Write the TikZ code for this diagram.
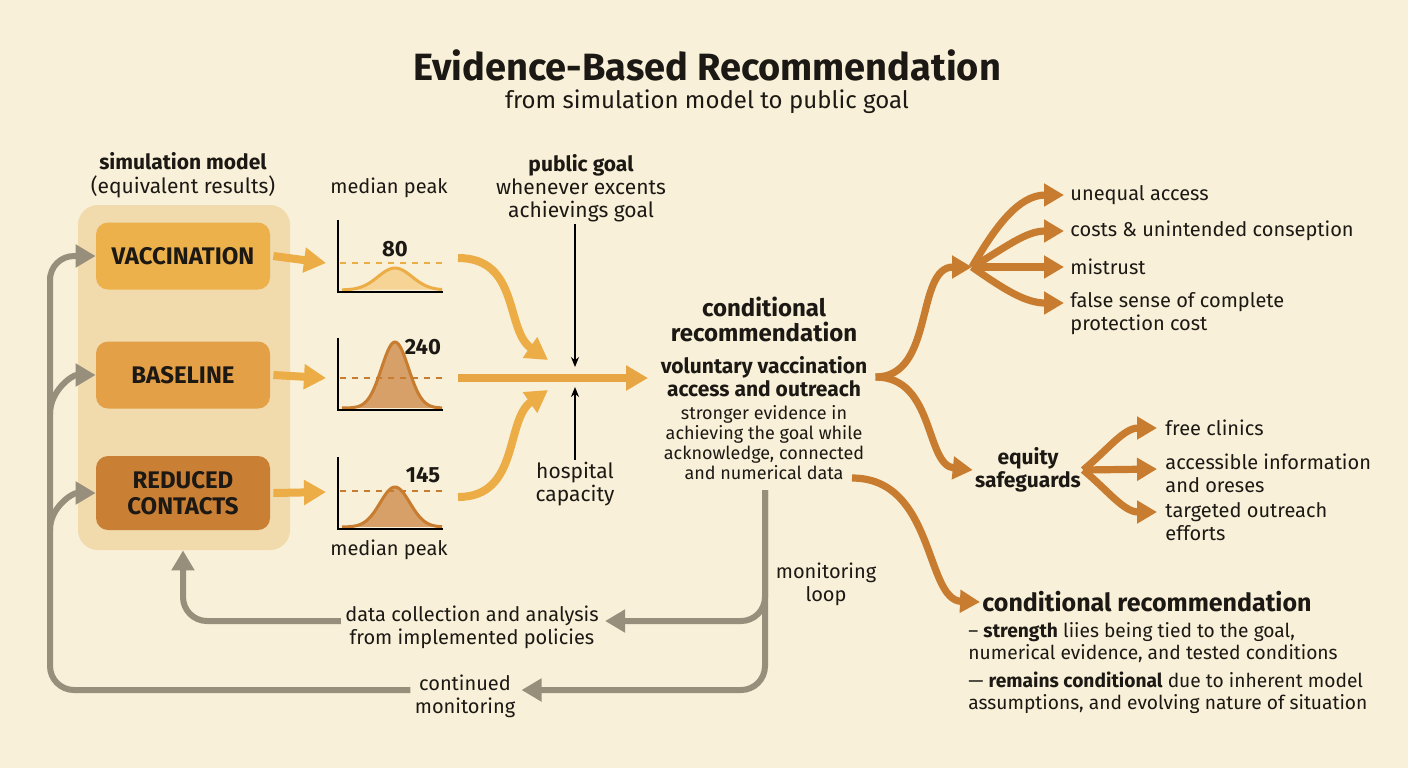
\documentclass[tikz,border=0pt]{standalone}
\usepackage{fontspec}
\setmainfont{Fira Sans}
\usepackage{tikz}
\usetikzlibrary{positioning,arrows.meta,calc}

\definecolor{bgcream}{RGB}{248,240,216}
\definecolor{inkdark}{RGB}{28,24,20}
\definecolor{panelfill}{RGB}{241,218,172}
\definecolor{vacfill}{RGB}{237,177,76}
\definecolor{basefill}{RGB}{228,160,70}
\definecolor{redfill}{RGB}{202,128,52}
\definecolor{flowlight}{RGB}{236,172,70}
\definecolor{flowdark}{RGB}{200,124,48}
\definecolor{curvelight}{RGB}{245,212,150}
\definecolor{curvemid}{RGB}{214,160,104}
\definecolor{loopgray}{RGB}{152,142,124}

\begin{document}
\begin{tikzpicture}[x=0.5pt, y=-0.5pt, text=inkdark,
    font=\fontsize{10}{11.5}\selectfont,
    scen/.style={rounded corners=6pt, minimum width=87pt, minimum height=33.5pt,
      align=center, font=\fontsize{12}{13}\selectfont\bfseries},
    txt/.style={align=center, inner sep=1pt},
    item/.style={align=left, inner sep=1pt, anchor=west},
    flow/.style={line width=4pt, flowlight, -{Triangle[length=11pt,width=12pt]}},
    branch/.style={line width=3.6pt, flowdark, -{Triangle[length=10pt,width=11pt]}},
    feed/.style={line width=3pt, loopgray, rounded corners=12pt, -{Triangle[length=10pt,width=11pt]}},
    pointer/.style={line width=0.7pt, black, -{Stealth[length=5pt,width=4pt]}}]

  % Background
  \fill[bgcream] (0,0) rectangle (1408,768);
  \useasboundingbox (0,0) rectangle (1408,768);

  % Title
  \node[font=\fontsize{19}{22}\selectfont\bfseries] (title) at (707,65) {Evidence-Based Recommendation};
  \node[font=\fontsize{12}{14}\selectfont] (subtitle) at (707,102) {from simulation model to public goal};

  % Simulation model
  \node[txt, font=\fontsize{10.5}{12}\selectfont] (simhead) at (183,175) {\textbf{simulation model}\\(equivalent results)};
  \node[fill=panelfill, rounded corners=10pt, minimum width=106pt, minimum height=172.5pt] (panel) at (184,377.5) {};
  \node[scen, fill=vacfill] (vac) at (183,256) {VACCINATION};
  \node[scen, fill=basefill] (base) at (183,375) {BASELINE};
  \node[scen, fill=redfill, minimum height=37pt] (red) at (183,493) {REDUCED\\CONTACTS};

  % Peak charts
  \node[txt] (peaktop) at (389,188) {median peak};
  \node[txt] (peakbot) at (389,550) {median peak};
  \foreach \yb/\h/\s/\dy/\fc/\lc/\num/\lx/\ly [count=\i] in
      {290/22/24/263/curvelight/flowlight/80/395/249,
       408/66/19/378/curvemid/flowdark/240/423/347,
       527/40/21/491/curvemid/flowdark/145/423/475}{
    \fill[\fc] plot[domain=342:442, samples=60] (\x,{\yb-\h*exp(0-((\x-395)/\s)^2)}) -- cycle;
    \draw[\lc, line width=1.5pt] plot[domain=342:442, samples=60] (\x,{\yb-\h*exp(0-((\x-395)/\s)^2)});
    \draw[\lc, dashed, line width=0.6pt] (340,\dy) -- (443,\dy);
    \draw[black, line width=1.2pt] (338,\yb-70) -- (338,\yb+2) -- (443,\yb+2);
    \node[font=\fontsize{11}{12}\selectfont\bfseries] (pk\i) at (\lx,\ly) {\num};
  }
  \coordinate (in1) at (326,263);
  \coordinate (in2) at (326,378);
  \coordinate (in3) at (326,492);
  \draw[flow] (vac.east) ++(3,0) -- (in1);
  \draw[flow] (base.east) ++(3,0) -- (in2);
  \draw[flow] (red.east) ++(3,0) -- (in3);

  % Merge into recommendation
  \coordinate (out1) at (458,258);
  \coordinate (out2) at (458,378);
  \coordinate (out3) at (458,497);
  \coordinate (m1) at (548,360);
  \coordinate (m3) at (548,390);
  \coordinate (goal) at (648,378);
  \draw[flow] (out1) .. controls (520,258) and (505,330) .. (m1);
  \draw[flow] (out3) .. controls (520,497) and (505,420) .. (m3);
  \draw[flow, flowlight!85!flowdark] (out2) -- (goal);

  % Public goal and capacity
  \node[txt, font=\fontsize{10.5}{11.5}\selectfont] (pg) at (581,188) {\textbf{public goal}\\whenever excents\\achievings goal};
  \node[txt, font=\fontsize{10.5}{11.5}\selectfont] (hc) at (575,484) {hospital\\capacity};
  \coordinate (hit1) at (575,367);
  \coordinate (hit2) at (575,387);
  \draw[pointer] (pg.south -| hit1) -- (hit1);
  \draw[pointer] (hc.north) -- (hit2);

  % Conditional recommendation
  \node[txt, font=\fontsize{12}{12.5}\selectfont\bfseries] (crhead) at (764,319) {conditional\\recommendation};
  \node[txt, font=\fontsize{10.5}{11.5}\selectfont\bfseries] (crsub) at (764,377) {voluntary vaccination\\access and outreach};
  \node[txt, font=\fontsize{9}{10}\selectfont] (crtext) at (764,443) {stronger evidence in\\achieving the goal while\\acknowledge, connected\\and numerical data};

  % Concerns fan
  \coordinate (fan) at (972,267);
  \node[item] (ua) at (1068,195) {unequal access};
  \node[item] (cu) at (1068,231) {costs \& unintended conseption};
  \node[item] (mt) at (1068,267) {mistrust};
  \node[item, anchor=north west] (fs) at (1068,290) {false sense of complete\\protection cost};
  \draw[branch] (crsub.east) ++(6,0) .. controls (935,377) and (915,267) .. (fan);
  \draw[branch] (fan) to[out=60, in=180] ($(ua.west)+(-4,0)$);
  \draw[branch] (fan) to[out=30, in=180] ($(cu.west)+(-4,0)$);
  \draw[branch] (fan) -- ($(mt.west)+(-4,0)$);
  \draw[branch] (fan) to[out=-35, in=180] ($(fs.north west)+(-4,13)$);

  % Equity safeguards
  \node[txt, font=\fontsize{10.5}{11.5}\selectfont\bfseries] (eq) at (1028,470) {equity\\safeguards};
  \draw[branch] (crsub.east) ++(6,0) .. controls (935,377) and (925,465) .. (eq.west);
  \node[item] (fc) at (1163,428) {free clinics};
  \node[item] (ai) at (1163,473) {accessible information\\and oreses};
  \node[item, anchor=north west] (to) at (1163,500) {targeted outreach\\efforts};
  \draw[branch] (eq.east) to[out=40, in=180] ($(fc.west)+(-6,0)$);
  \draw[branch] (eq.east) -- ($(ai.west)+(-6,-4)$);
  \draw[branch] (eq.east) to[out=-40, in=180] ($(to.north west)+(-6,12)$);

  % Final statement
  \coordinate (crend) at (852,478);
  \node[anchor=west, inner sep=1pt, font=\fontsize{12.5}{14}\selectfont\bfseries] (cr2) at (980,602) {conditional recommendation};
  \node[anchor=north west, align=left, inner sep=1pt, font=\fontsize{9.6}{11}\selectfont] (crnote) at (966,620)
    {-- \textbf{strength} liies being tied to the goal,\\numerical evidence, and tested conditions\\[3pt]
     --- \textbf{remains conditional} due to inherent model\\assumptions, and evolving nature of situation};
  \draw[branch] (crend) .. controls (935,478) and (925,600) .. (cr2.west);

  % Monitoring loop
  \coordinate (lp) at (765,490);
  \node[txt] (ml) at (826,584) {monitoring\\loop};
  \node[txt] (data) at (472,627) {data collection and analysis\\from implemented policies};
  \node[txt] (cont) at (465,696) {continued\\monitoring};
  \draw[feed] (lp) |- ($(data.east)+(4,-6)$);
  \draw[feed] (lp) |- ($(cont.east)+(4,-6)$);
  \draw[feed] ($(data.west)+(-2,-6)$) -| (red.south |- panel.south);
  \coordinate (j2) at (50,414);
  \coordinate (j3) at (50,530);
  \draw[feed] ($(cont.west)+(-2,-6)$) -| (50,300) |- (vac.west);
  \draw[feed, rounded corners=0pt] (j2) to[out=90, in=180] (base.west);
  \draw[feed, rounded corners=0pt] (j3) to[out=90, in=180] (red.west);

\end{tikzpicture}
\end{document}
